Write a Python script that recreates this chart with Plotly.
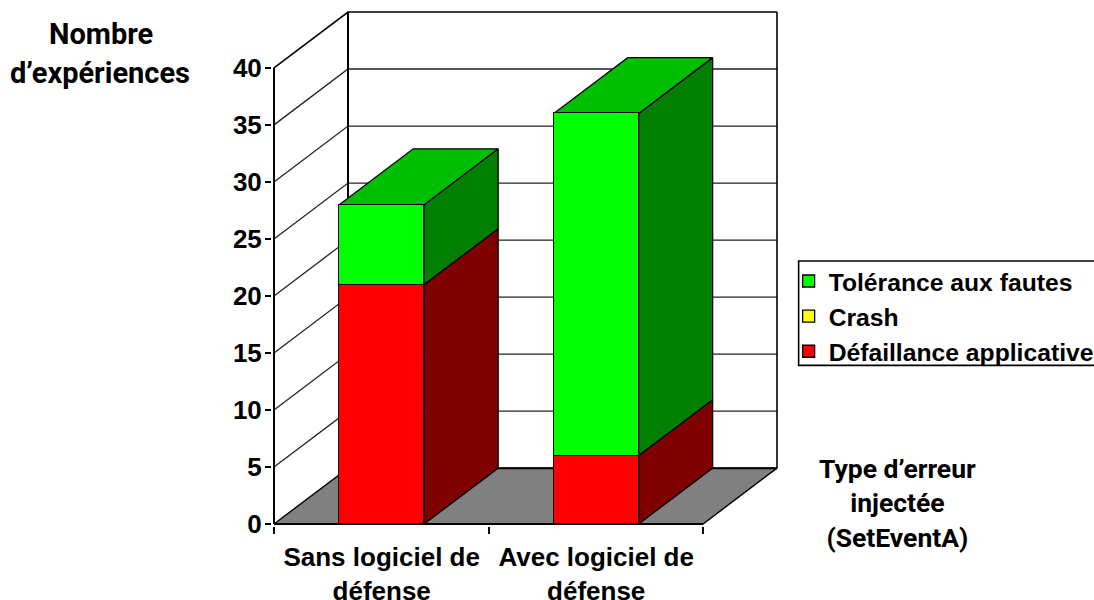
import plotly.graph_objects as go

categories = ["Sans logiciel de<br>défense", "Avec logiciel de<br>défense"]
defaillance = [21, 6]
crash = [0, 0]
tolerance = [7, 30]
y_ticks = [0, 5, 10, 15, 20, 25, 30, 35, 40]
x_pos = [0.502, 1.502]
bar_width = 0.396
depth_x = 0.345
depth_y = 4.9
x_max = 2
y_max = 40
FONT = "Liberation Sans"
TITLE_FONT = "Roboto"

RED, YEL, GRN = "#FF0000", "#FFFF00", "#00FF00"
RED_S, GRN_S, GRN_T = "#7F0000", "#007F00", "#00BF00"

W, H = 1094, 600
X0, X_SCALE = 274.0, 214.65   # px position of x=0, px per x unit
Y0, Y_SCALE = 524.2, 11.41    # px position of y=0, px per y unit
PAD = 2.0                     # room for edge lines
L = X0 - PAD
R = X0 + (x_max + depth_x) * X_SCALE + PAD
B = Y0 + PAD
T = Y0 - (y_max + depth_y) * Y_SCALE - PAD
x_range = [-PAD / X_SCALE, x_max + depth_x + PAD / X_SCALE]
y_range = [-PAD / Y_SCALE, y_max + depth_y + PAD / Y_SCALE]

fig = go.Figure()


def poly(xs, ys, fill=None, width=1.3, color="#000000", z=0):
    fig.add_trace(go.Scatter(
        x=xs, y=ys, mode="lines",
        fill="toself" if fill else "none", fillcolor=fill,
        line=dict(color=color, width=width, simplify=False),
        hoverinfo="skip", showlegend=False, zorder=z))


# walls, floor
poly([0, depth_x, x_max + depth_x, x_max, 0], [0, depth_y, depth_y, 0, 0], fill="#808080", width=1.4)
for v in y_ticks[1:]:
    poly([0, depth_x, x_max + depth_x],
         [v, v + depth_y, v + depth_y],
         width=1.6 if v == y_max else 1.3,
         color="#000000" if v == y_max else "#222222")
poly([depth_x, depth_x], [depth_y, y_max + depth_y], width=2)
poly([x_max + depth_x, x_max + depth_x], [depth_y, y_max + depth_y], width=1.6)
poly([depth_x, x_max + depth_x], [depth_y, depth_y], width=2)

# side & top faces of each stack
for i, cx in enumerate(x_pos):
    r = cx + bar_width / 2
    l = cx - bar_width / 2
    base = 0
    for h, side in ((defaillance[i], RED_S), (tolerance[i], GRN_S)):
        top = base + h
        poly([r, r + depth_x, r + depth_x, r, r],
             [base, base + depth_y, top + depth_y, top, base], fill=side, z=1)
        base = top
    poly([l, l + depth_x, r + depth_x, r, l],
         [base, base + depth_y, base + depth_y, base, base], fill=GRN_T, z=1)

# front faces
for name, vals, col in (("Défaillance applicative", defaillance, RED),
                        ("Crash", crash, YEL),
                        ("Tolérance aux fautes", tolerance, GRN)):
    fig.add_trace(go.Bar(x=x_pos, y=vals, width=bar_width, name=name, zorder=2,
                         marker=dict(color=col, line=dict(color="#000000", width=1.3)),
                         hoverinfo="skip"))

# axis lines (stop at the front plane)
poly([0, 0], [0, y_max], width=2, z=3)
poly([0, x_max], [0, 0], width=2, z=3)


def px_x(p):
    return (p - L) / (R - L)


def px_y(p):
    return (B - p) / (B - T)


def label(text, cx, cy, size=29):
    fig.add_annotation(text=f"<b>{text}</b>", x=px_x(cx), y=px_y(cy), xref="paper", yref="paper",
                       showarrow=False, xanchor="center", yanchor="middle", align="center",
                       font=dict(family=TITLE_FONT, size=size, color="#000000"))


label("Nombre", 101, 34)
label("d’expériences", 100, 73)
label("Type d’erreur<br>injectée<br>(SetEventA)", 898, 503, size=26.5)

fig.add_shape(type="rect", xref="paper", yref="paper",
              x0=px_x(799), x1=px_x(1100), y0=px_y(261), y1=px_y(365.5),
              line=dict(color="#000000", width=1.6), fillcolor="rgba(0,0,0,0)")

fig.update_layout(
    width=W, height=H, barmode="stack", bargap=0,
    margin=dict(l=L, r=W - R, t=T, b=H - B, autoexpand=False, pad=0),
    paper_bgcolor="#FFFFFF", plot_bgcolor="rgba(0,0,0,0)",
    font=dict(family=FONT, size=24, color="#000000"),
    xaxis=dict(range=x_range, tickmode="array", tickvals=x_pos, ticktext=[f"<b>{c}</b>" for c in categories],
               ticks="outside", ticklen=8, tickcolor="rgba(0,0,0,0)", showline=False,
               showgrid=False, zeroline=False, tickangle=0,
               tickfont=dict(family=FONT, size=26),
               minor=dict(tickmode="array", tickvals=[0, 1, 2], ticks="outside", ticklen=7,
                          tickwidth=1.5, tickcolor="#000000", showgrid=False)),
    yaxis=dict(range=y_range, tickmode="array", tickvals=y_ticks, ticktext=[f"<b>{v}</b>" for v in y_ticks],
               ticks="outside", ticklen=6, tickwidth=1.5, tickcolor="#000000", showline=False,
               showgrid=False, zeroline=False, ticklabelstandoff=-2,
               tickfont=dict(family=FONT, size=26)),
    legend=dict(x=px_x(789), y=px_y(258.5), xanchor="left", yanchor="top", traceorder="reversed",
                borderwidth=0, bgcolor="rgba(0,0,0,0)",
                font=dict(family=FONT, size=24.7, weight="bold")),
)

fig.write_html("out.html", post_script="document.body.style.margin='0';",
               config={"displayModeBar": False})
